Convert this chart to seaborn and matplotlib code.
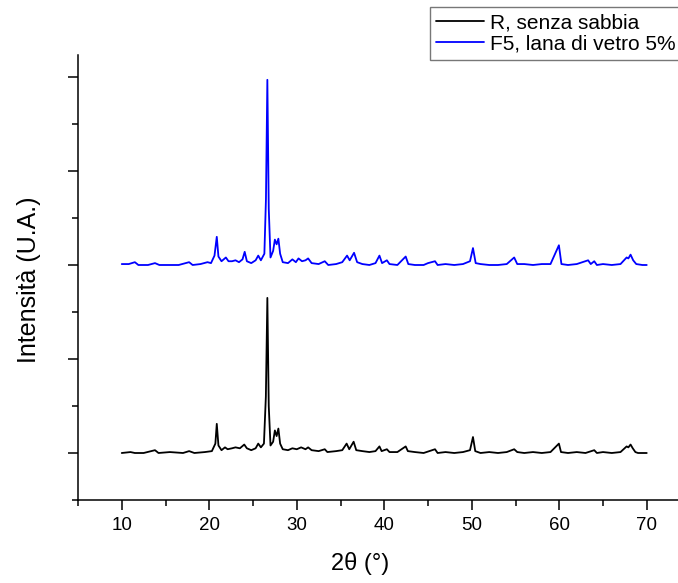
import numpy as np
import pandas as pd
import matplotlib
matplotlib.use("Agg")
import matplotlib.pyplot as plt
import seaborn as sns
from matplotlib.ticker import MultipleLocator, NullFormatter

# ---- data ----
labels = ["R, senza sabbia", "F5, lana di vetro 5%"]
colors = ["black", "#0000ff"]
offsets = [0.0, 2.0]

r_pts = [(10.0, 0.00), (11.0, 0.01), (11.5, 0.00), (12.5, 0.00), (13.8, 0.03), (14.2, 0.00),
         (15.5, 0.01), (17.0, 0.00), (17.7, 0.02), (18.3, 0.00), (19.5, 0.01), (20.3, 0.02),
         (20.7, 0.10), (20.86, 0.31), (21.05, 0.08), (21.4, 0.03), (21.8, 0.06), (22.1, 0.04),
         (22.6, 0.05), (23.0, 0.06), (23.5, 0.05), (24.0, 0.09), (24.3, 0.05), (24.8, 0.03),
         (25.3, 0.05), (25.6, 0.10), (25.9, 0.06), (26.25, 0.10), (26.47, 0.60), (26.64, 1.65),
         (26.8, 0.50), (27.0, 0.08), (27.3, 0.12), (27.5, 0.24), (27.7, 0.18), (27.9, 0.26),
         (28.1, 0.10), (28.4, 0.04), (29.0, 0.03), (29.5, 0.05), (30.0, 0.04), (30.5, 0.06),
         (31.0, 0.04), (31.3, 0.06), (31.7, 0.03), (32.5, 0.02), (33.2, 0.04), (33.5, 0.01),
         (34.5, 0.02), (35.2, 0.03), (35.7, 0.10), (36.0, 0.04), (36.5, 0.12), (36.8, 0.03),
         (37.5, 0.02), (38.3, 0.01), (39.0, 0.02), (39.45, 0.07), (39.7, 0.02), (40.3, 0.04),
         (40.6, 0.01), (41.5, 0.01), (42.45, 0.07), (42.7, 0.02), (43.5, 0.01), (44.5, 0.00),
         (45.8, 0.04), (46.1, 0.00), (47.0, 0.01), (48.0, 0.00), (49.0, 0.01), (49.8, 0.03),
         (50.14, 0.17), (50.4, 0.02), (51.0, 0.00), (52.0, 0.01), (53.0, 0.00), (54.0, 0.01),
         (54.85, 0.04), (55.2, 0.01), (56.0, 0.00), (57.0, 0.01), (58.0, 0.00), (59.0, 0.01),
         (59.96, 0.10), (60.2, 0.01), (61.0, 0.00), (62.0, 0.01), (63.0, 0.00), (64.0, 0.03),
         (64.3, 0.00), (65.0, 0.01), (66.0, 0.00), (67.0, 0.01), (67.7, 0.07), (67.9, 0.06),
         (68.15, 0.09), (68.4, 0.05), (68.7, 0.01), (69.0, 0.00), (70.0, 0.00)]

f5_pts = [(10.0, 0.01), (10.8, 0.01), (11.5, 0.03), (11.9, 0.00), (13.0, 0.00), (13.8, 0.02),
          (14.3, 0.00), (15.5, 0.00), (16.5, 0.00), (17.7, 0.03), (18.1, 0.00), (19.0, 0.01),
          (19.8, 0.03), (20.2, 0.02), (20.6, 0.10), (20.86, 0.30), (21.05, 0.09), (21.4, 0.04),
          (21.9, 0.08), (22.2, 0.04), (22.6, 0.04), (23.0, 0.05), (23.4, 0.03), (23.8, 0.06),
          (24.05, 0.14), (24.3, 0.04), (24.8, 0.02), (25.3, 0.05), (25.6, 0.10), (25.9, 0.05),
          (26.3, 0.12), (26.48, 0.70), (26.64, 1.97), (26.8, 0.60), (27.0, 0.08), (27.3, 0.15),
          (27.5, 0.27), (27.7, 0.22), (27.9, 0.28), (28.1, 0.12), (28.4, 0.03), (29.0, 0.02),
          (29.5, 0.06), (29.9, 0.03), (30.2, 0.07), (30.6, 0.04), (31.0, 0.05), (31.3, 0.07),
          (31.7, 0.02), (32.5, 0.01), (33.2, 0.04), (33.6, 0.00), (34.5, 0.01), (35.2, 0.03),
          (35.75, 0.10), (36.05, 0.05), (36.55, 0.13), (36.9, 0.03), (37.5, 0.01), (38.3, 0.00),
          (39.0, 0.02), (39.45, 0.10), (39.75, 0.02), (40.3, 0.05), (40.6, 0.01), (41.5, 0.00),
          (42.45, 0.09), (42.75, 0.01), (43.5, 0.00), (44.5, 0.00), (45.0, 0.02), (45.8, 0.04),
          (46.1, 0.00), (47.0, 0.01), (48.0, 0.00), (49.0, 0.01), (49.8, 0.04), (50.14, 0.18),
          (50.45, 0.02), (51.0, 0.01), (52.0, 0.00), (53.0, 0.00), (54.0, 0.01), (54.85, 0.08),
          (55.2, 0.01), (56.0, 0.01), (57.0, 0.00), (58.0, 0.01), (59.0, 0.01), (59.96, 0.21),
          (60.25, 0.01), (61.0, 0.00), (62.0, 0.01), (63.3, 0.05), (63.6, 0.01), (64.0, 0.04),
          (64.3, 0.00), (65.0, 0.01), (66.0, 0.00), (67.0, 0.01), (67.7, 0.08), (67.9, 0.07),
          (68.15, 0.11), (68.45, 0.05), (68.8, 0.01), (69.5, 0.00), (70.0, 0.00)]

x_ticks = [10, 20, 30, 40, 50, 60, 70]

# ---- figure ----
sns.set_theme(style="ticks")
plt.rcParams["font.family"] = ["Liberation Sans", "DejaVu Sans"]

W, H = 678, 583
fig = plt.figure(figsize=(W / 100, H / 100), dpi=100)
ax = fig.add_axes([78 / W, 83 / H, 612.5 / W, 445 / H])

for pts, lab, col, off in zip([r_pts, f5_pts], labels, colors, offsets):
    df = pd.DataFrame(pts, columns=["two_theta", "intensity"])
    df["shown"] = df["intensity"] + off
    sns.lineplot(data=df, x="two_theta", y="shown", ax=ax, color=col, lw=1.3,
                 sort=False, estimator=None, label=lab)

ax.set_xlim(5, 75)
ax.set_ylim(-0.5, 4.234)
ax.set_xticks(x_ticks)
ax.xaxis.set_minor_locator(MultipleLocator(5))
ax.yaxis.set_major_locator(MultipleLocator(1))
ax.yaxis.set_minor_locator(MultipleLocator(0.5))
ax.yaxis.set_major_formatter(NullFormatter())
ax.tick_params(axis="both", which="major", direction="out", length=7, width=1.1,
               color="black", labelsize=13.5, labelcolor="black", pad=5)
ax.tick_params(axis="both", which="minor", direction="out", length=4, width=1.1, color="black")
for s in ["top", "right"]:
    ax.spines[s].set_visible(False)
for s in ["left", "bottom"]:
    ax.spines[s].set_linewidth(1.1)
    ax.spines[s].set_color("black")

ax.set_xlabel("2θ (°)", fontsize=17, color="black")
ax.xaxis.set_label_coords((360 - 78) / 612.5, -(552 - 500) / 445)
ax.set_ylabel("Intensità (U.A.)", fontsize=18, color="black")
ax.yaxis.set_label_coords((41 - 78) / 612.5, (500 - 280) / 445)

leg = ax.legend(loc="upper left", bbox_to_anchor=(430 / W, 1 - 7 / H),
                bbox_transform=fig.transFigure, frameon=True, fancybox=False,
                fontsize=15, handlelength=2.3, handletextpad=0.3, borderpad=0.3,
                labelspacing=0.1, borderaxespad=0)
leg.get_frame().set_edgecolor("#555555")
leg.get_frame().set_linewidth(1.0)
for t in leg.get_texts():
    t.set_color("black")

fig.savefig("out.png", dpi=100)
